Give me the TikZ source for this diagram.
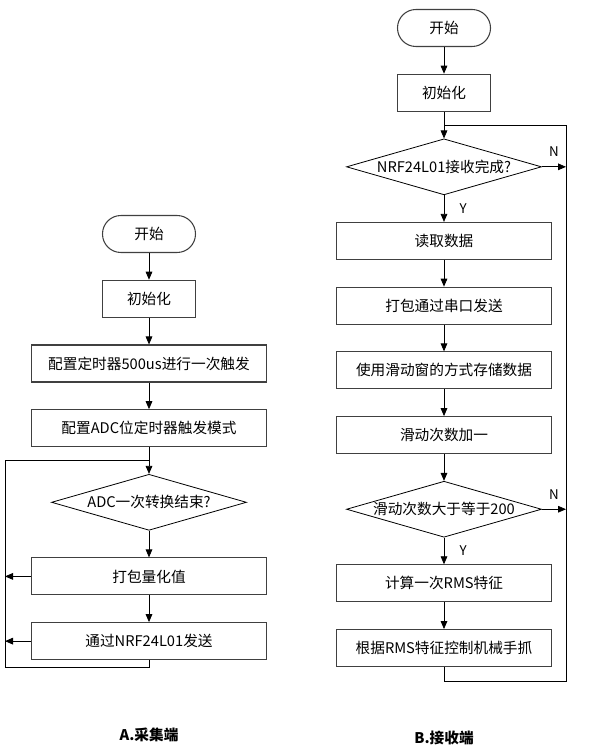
\documentclass[tikz,border=0pt]{standalone}
\usepackage{fontspec}
\setmainfont{Noto Sans CJK SC}
\usepackage{tikz}
\usetikzlibrary{arrows.meta,positioning,calc,shapes.geometric}
\definecolor{flowInk}{HTML}{000000}
\definecolor{flowEdge}{HTML}{404040}
\newcommand{\flowq}[1]{\makebox[0pt]{#1}}
\tikzset{
  flowbox/.style={draw=flowEdge, line width=0.8pt, align=center, minimum height=27.75pt,
                  inner sep=2pt, font=\fontsize{11}{13}\selectfont, text=flowInk},
  flowterm/.style={flowbox, rounded corners=13.8pt, minimum width=69.75pt},
  flowdec/.style={diamond, draw=flowInk, line width=0.6pt, aspect=3.5, inner sep=0pt,
                  minimum width=146.25pt, minimum height=42pt,
                  font=\fontsize{11}{13}\selectfont, text=flowInk},
  farr/.style={-{Triangle[length=6pt,width=5pt]}, line width=0.6pt, draw=flowInk},
  fline/.style={line width=0.6pt, draw=flowInk},
  flowlbl/.style={font=\fontsize{10}{12}\selectfont, text=flowInk},
  flowtitle/.style={font=\bfseries\fontsize{11}{13}\selectfont, text=flowInk},
}

\begin{document}
\begin{tikzpicture}[x=0.75pt, y=-0.75pt, node distance=20pt]
    \useasboundingbox (0,0) rectangle (607,752);
    % A: sender side
    \node[flowterm] (aStart) at (149,234) {开始};
    \node[flowbox, minimum width=69.75pt, below=of aStart] (aInit) {初始化};
    \node[flowbox, minimum width=176.25pt, below=of aInit] (aTimer) {配置定时器500us进行一次触发};
    \node[flowbox, minimum width=176.25pt, below=of aTimer] (aAdc) {配置ADC位定时器触发模式};
    \node[flowdec, below=of aAdc] (aDone) {\flowq{ADC一次转换结束?}};
    \node[flowbox, minimum width=176.25pt, below=of aDone] (aPack) {打包量化值};
    \node[flowbox, minimum width=176.25pt, below=of aPack] (aSend) {通过NRF24L01发送};
    \coordinate (aLeft) at (5,0);
    \coordinate (aJoin) at ($(aAdc.south)!0.5!(aDone.north)$);
    \draw[farr] (aStart)--(aInit);
    \draw[farr] (aInit)--(aTimer);
    \draw[farr] (aTimer)--(aAdc);
    \draw[farr] (aAdc)--(aDone);
    \draw[farr] (aDone)--(aPack);
    \draw[farr] (aPack)--(aSend);
    \draw[fline] (aSend.south) -- ++(0,7) coordinate (aBot) -- (aBot -| aLeft) |- (aJoin);
    \draw[farr] (aPack.west) -- (aPack.west -| aLeft);
    \draw[farr] (aSend.west) -- (aSend.west -| aLeft);
    \node[flowtitle] (aTitle) at (149,735) {A.采集端};
    % B: receiver side
    \node[flowterm] (bStart) at (444,28) {开始};
    \node[flowbox, minimum width=69.75pt, below=of bStart] (bInit) {初始化};
    \node[flowdec, below=of bInit] (bRecv) {\flowq{NRF24L01接收完成?}};
    \node[flowbox, minimum width=161.25pt, below=of bRecv] (bRead) {读取数据};
    \node[flowbox, minimum width=161.25pt, below=of bRead] (bPack) {打包通过串口发送};
    \node[flowbox, minimum width=161.25pt, below=of bPack] (bStore) {使用滑动窗的方式存储数据};
    \node[flowbox, minimum width=161.25pt, below=of bStore] (bCount) {滑动次数加一};
    \node[flowdec, below=of bCount] (bFull) {\flowq{滑动次数大于等于200}};
    \node[flowbox, minimum width=161.25pt, below=of bFull] (bRms) {计算一次RMS特征};
    \node[flowbox, minimum width=161.25pt, below=of bRms] (bCtrl) {根据RMS特征控制机械手抓};
    \coordinate (bRight) at (566,0);
    \coordinate (bJoin) at ($(bInit.south)!0.5!(bRecv.north)$);
    \draw[farr] (bStart)--(bInit);
    \draw[farr] (bInit)--(bRecv);
    \draw[farr] (bRecv) -- node[flowlbl, right=8pt]{Y} (bRead);
    \draw[farr] (bRead)--(bPack);
    \draw[farr] (bPack)--(bStore);
    \draw[farr] (bStore)--(bCount);
    \draw[farr] (bCount)--(bFull);
    \draw[farr] (bFull) -- node[flowlbl, right=8pt]{Y} (bRms);
    \draw[farr] (bRms)--(bCtrl);
    \draw[fline] (bCtrl.south) -- ++(0,14) coordinate (bBot) -- (bBot -| bRight) -- (bRight |- bJoin) -- (bJoin);
    \draw[farr] (bRecv.east) -- node[flowlbl, above=4pt]{N} (bRecv.east -| bRight);
    \draw[farr] (bFull.east) -- node[flowlbl, above=4pt]{N} (bFull.east -| bRight);
    \node[flowtitle] (bTitle) at (444,738) {B.接收端};
  \end{tikzpicture}
\end{document}
